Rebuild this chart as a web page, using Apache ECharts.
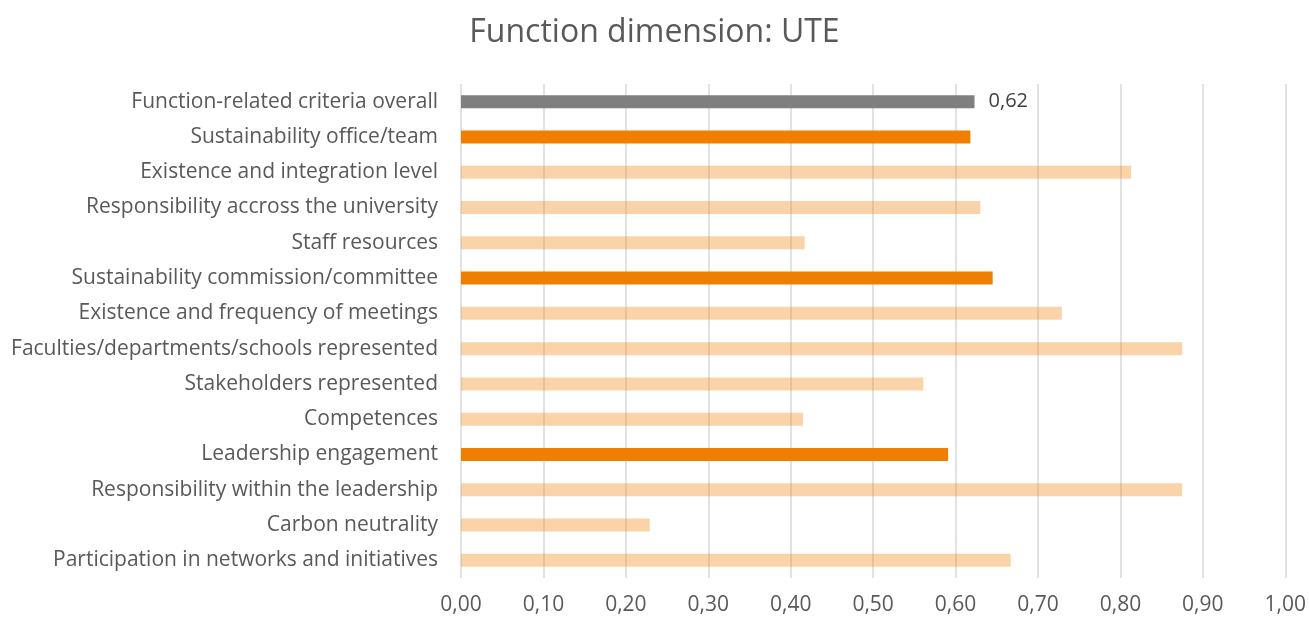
<!DOCTYPE html>
<html>
<head>
<meta charset="utf-8">
<script src="https://cdn.jsdelivr.net/npm/echarts@6/dist/echarts.min.js"></script>
<style>
  html, body { margin: 0; padding: 0; background: #fff; }
  #chart { width: 1309px; height: 619px; }
</style>
</head>
<body>
<div id="chart"></div>
<script>
// 类别（从上到下）
const categories = [
  'Function-related criteria overall',
  'Sustainability office/team',
  'Existence and integration level',
  'Responsibility accross the university',
  'Staff resources',
  'Sustainability commission/committee',
  'Existence and frequency of meetings',
  'Faculties/departments/schools represented',
  'Stakeholders represented',
  'Competences',
  'Leadership engagement',
  'Responsibility within the leadership',
  'Carbon neutrality',
  'Participation in networks and initiatives'
];

// 每个类别的层级：overall / group / item
const levels = [
  'overall', 'group', 'item', 'item', 'item',
  'group', 'item', 'item', 'item', 'item',
  'group', 'item', 'item', 'item'
];

const values = [
  0.623, 0.618, 0.813, 0.630, 0.417,
  0.645, 0.729, 0.875, 0.561, 0.415,
  0.591, 0.875, 0.229, 0.667
];

const levelColor = {
  overall: '#7f7f7f',
  group: '#f07f00',
  item: 'rgba(240, 128, 0, 0.34)'
};

const FONT = '"Open Sans", "Liberation Sans", sans-serif';
const fmt = v => v.toFixed(2).replace('.', ',');

const chart = echarts.init(document.getElementById('chart'));

chart.setOption({
  backgroundColor: '#fff',
  animation: false,
  title: {
    text: 'Function dimension: UTE',
    left: 'center',
    top: 12,
    textStyle: {
      fontFamily: FONT,
      fontSize: 32,
      fontWeight: 'normal',
      color: '#595959'
    }
  },
  grid: {
    left: 461,
    right: 22,
    top: 84,
    bottom: 41,
    containLabel: false
  },
  xAxis: {
    type: 'value',
    min: 0,
    max: 1,
    interval: 0.1,
    axisLine: { show: false },
    axisTick: { show: false },
    splitLine: {
      show: true,
      lineStyle: { color: '#d9d9d9', width: 1.5 }
    },
    axisLabel: {
      formatter: fmt,
      fontFamily: FONT,
      fontSize: 21,
      color: '#595959',
      margin: 17
    }
  },
  yAxis: {
    type: 'category',
    data: categories,
    inverse: true,
    axisLine: { show: false },
    axisTick: { show: false },
    axisLabel: {
      fontFamily: FONT,
      fontSize: 21,
      color: '#595959',
      margin: 23
    }
  },
  series: [{
    type: 'bar',
    barWidth: 13,
    data: values.map((v, i) => ({
      value: v,
      itemStyle: { color: levelColor[levels[i]] },
      label: {
        show: levels[i] === 'overall',
        position: 'right',
        distance: 14,
        formatter: p => fmt(p.value),
        fontFamily: FONT,
        fontSize: 20,
        color: '#404040'
      }
    }))
  }]
});
</script>
</body>
</html>
